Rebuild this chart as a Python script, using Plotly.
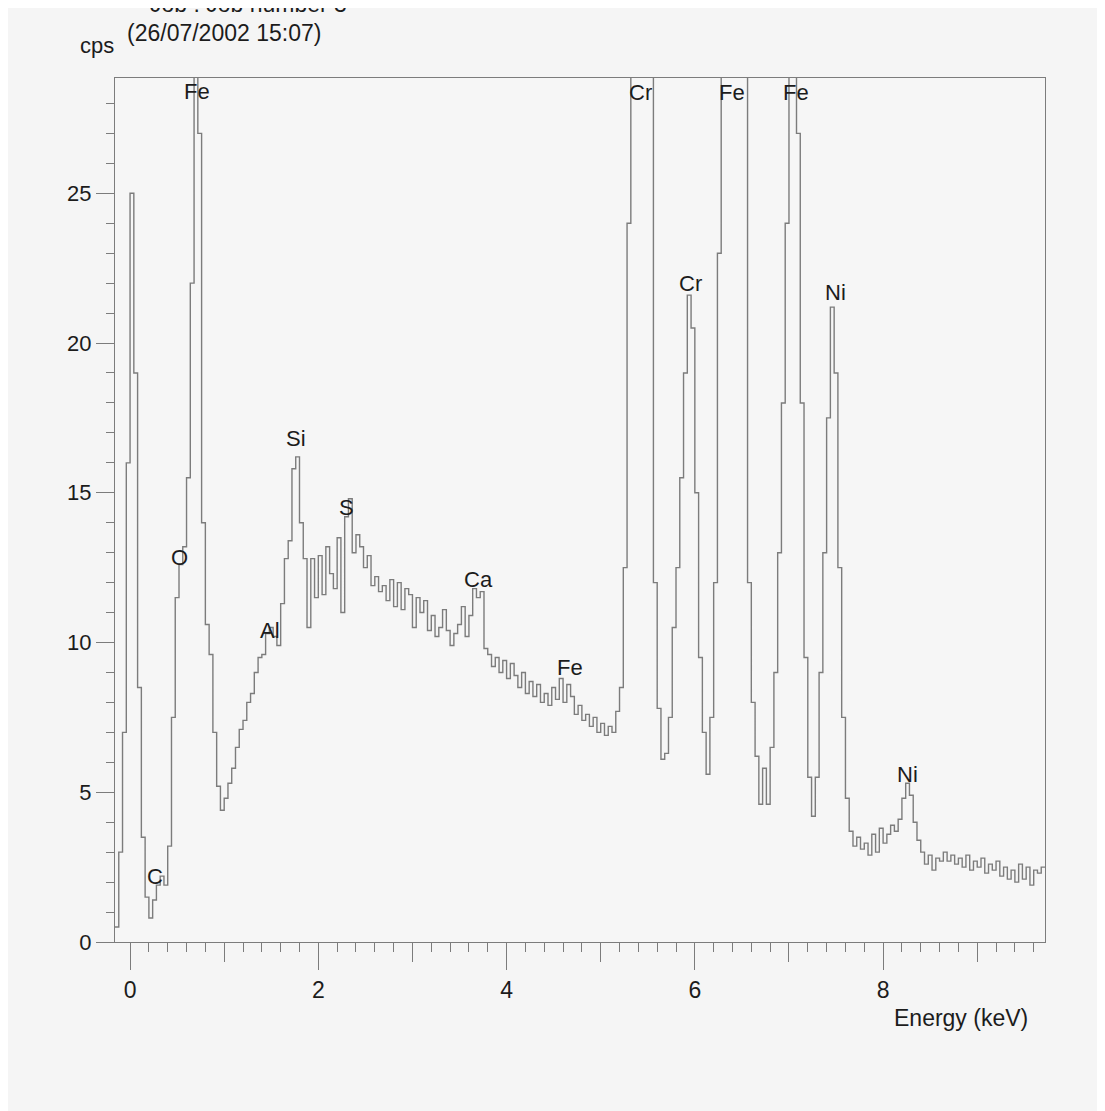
import plotly.graph_objects as go

# ---- data ----
channel_start = -0.16   # keV, left edge of first channel
channel_width = 0.04    # keV

counts_m0_to_1 = [0.5, 3.0, 7.0, 16.0, 25.0, 19.0, 8.5, 3.5, 1.5, 0.8,
                  1.4, 1.9, 2.2, 1.9, 3.2, 7.5, 11.5, 12.6, 13.2, 15.5,
                  22.0, 30.0, 27.0, 14.0, 10.6, 9.6, 7.0, 5.2, 4.4]
counts_1_to_2 = [4.8, 5.3, 5.8, 6.5, 7.1, 7.4, 8.0, 8.3, 9.0, 9.5,
                 9.6, 10.3, 10.5, 10.2, 9.9, 11.3, 12.8, 13.4, 15.8, 16.2,
                 14.0, 12.8, 10.5, 12.8, 11.5]
counts_2_to_3 = [12.9, 11.6, 13.2, 12.3, 11.8, 13.5, 11.0, 14.2, 14.8, 13.0,
                 13.6, 13.2, 12.5, 12.9, 11.9, 12.2, 11.7, 11.9, 11.4, 12.1,
                 11.2, 12.0, 11.1, 11.8, 11.6]
counts_3_to_4 = [10.5, 11.5, 11.0, 11.4, 10.4, 10.9, 10.2, 10.5, 11.1, 10.4,
                 9.9, 10.3, 10.6, 11.2, 10.2, 10.9, 11.8, 11.5, 11.7, 9.8,
                 9.6, 9.2, 9.5, 9.0, 9.4]
counts_4_to_5 = [8.8, 9.3, 8.9, 8.5, 9.0, 8.3, 8.7, 8.2, 8.6, 8.0,
                 8.3, 7.9, 8.5, 8.1, 8.8, 8.0, 8.6, 8.2, 7.6, 7.9,
                 7.4, 7.6, 7.2, 7.5, 7.0]
counts_5_to_6 = [7.3, 6.9, 7.2, 7.0, 7.7, 8.5, 12.5, 24.0, 30.0, 30.0,
                 30.0, 30.0, 30.0, 30.0, 12.0, 7.8, 6.1, 6.3, 7.5, 10.5,
                 12.5, 15.5, 19.0, 21.6, 20.5]
counts_6_to_7 = [15.0, 9.5, 7.0, 5.6, 7.5, 12.0, 23.0, 30.0, 30.0, 30.0,
                 30.0, 30.0, 30.0, 30.0, 12.0, 8.0, 6.2, 4.6, 5.8, 4.6,
                 6.5, 9.0, 13.0, 18.0, 24.0]
counts_7_to_8 = [30.0, 30.0, 27.0, 18.0, 9.5, 5.5, 4.2, 5.5, 9.0, 13.0,
                 17.5, 21.2, 19.0, 12.5, 7.5, 4.8, 3.7, 3.2, 3.5, 3.1,
                 3.3, 2.9, 3.6, 3.0, 3.8]
counts_8_to_9 = [3.3, 3.6, 3.9, 3.7, 4.1, 4.8, 5.3, 4.9, 4.0, 3.4,
                 3.0, 2.6, 2.9, 2.4, 2.8, 2.7, 3.0, 2.7, 2.9, 2.6,
                 2.8, 2.5, 2.9, 2.4, 2.7]
counts_9_to_end = [2.5, 2.8, 2.3, 2.6, 2.4, 2.7, 2.2, 2.5, 2.1, 2.4,
                   2.0, 2.6, 2.1, 2.5, 1.9, 2.4, 2.3, 2.5]

peak_labels = ["Fe", "C", "O", "Al", "Si", "S", "Ca", "Fe",
               "Cr", "Cr", "Fe", "Fe", "Ni", "Ni"]
peak_energy = [0.71, 0.27, 0.53, 1.49, 1.76, 2.30, 3.70, 4.67,
               5.42, 5.95, 6.40, 7.07, 7.49, 8.26]
peak_height = [28.4, 2.2, 12.85, 10.4, 16.8, 14.5, 12.1, 9.15,
               28.35, 22.0, 28.35, 28.35, 21.7, 5.6]

x_major_ticks = [0, 2, 4, 6, 8]
x_mid_ticks = [1, 3, 5, 7, 9]
y_ticks = [0, 5, 10, 15, 20, 25]
x_range = [-0.16, 9.72]
y_range = [0, 28.85]

# ---- build spectrum ----
counts = (counts_m0_to_1 + counts_1_to_2 + counts_2_to_3 + counts_3_to_4 +
          counts_4_to_5 + counts_5_to_6 + counts_6_to_7 + counts_7_to_8 +
          counts_8_to_9 + counts_9_to_end)
energy = [round(channel_start + i * channel_width, 4) for i in range(len(counts))]
energy_plot = energy + [energy[-1] + channel_width]
counts_plot = counts + [counts[-1]]

FONT = "Liberation Sans, Arial, sans-serif"
TXT = "#1c1c1c"
LINE = "#7c7c7c"

fig = go.Figure()
fig.add_trace(go.Scatter(
    x=energy_plot, y=counts_plot, mode="lines",
    line=dict(color=LINE, width=1.4, shape="hv"),
    hoverinfo="skip", showlegend=False,
))
# carrier trace for the overlay axis that draws the mid-length x ticks
fig.add_trace(go.Scatter(
    x=energy_plot, y=counts_plot, mode="none", xaxis="x2",
    hoverinfo="skip", showlegend=False,
))

for lab, e, h in zip(peak_labels, peak_energy, peak_height):
    fig.add_annotation(x=e, y=h, text=lab, showarrow=False,
                       font=dict(family=FONT, size=22, color=TXT),
                       xanchor="center", yanchor="middle")

fig.add_annotation(xref="paper", yref="paper", x=0.9097, y=-0.088,
                   text="Energy (keV)", showarrow=False,
                   font=dict(family=FONT, size=23, color=TXT),
                   xanchor="center", yanchor="middle")
fig.add_annotation(xref="paper", yref="paper", x=-0.0194, y=1.038,
                   text="cps", showarrow=False,
                   font=dict(family=FONT, size=22, color=TXT),
                   xanchor="center", yanchor="middle")
fig.add_annotation(xref="paper", yref="paper", x=0.0108, y=1.052,
                   text="(26/07/2002 15:07)", showarrow=False,
                   font=dict(family=FONT, size=23, color=TXT),
                   xanchor="left", yanchor="middle")
fig.add_annotation(xref="paper", yref="paper", x=0.035, y=1.0685,
                   text="Job : Job number 3", showarrow=False,
                   font=dict(family=FONT, size=23, color=TXT),
                   xanchor="left", yanchor="bottom")

fig.update_layout(
    width=1097, height=1103,
    margin=dict(l=107, r=60, t=70, b=169),
    paper_bgcolor="#f5f5f5", plot_bgcolor="#f6f6f6",
    font=dict(family=FONT, size=22, color=TXT),
    xaxis=dict(
        range=x_range, tickvals=x_major_ticks, ticks="outside", ticklen=27,
        tickcolor=LINE, tickwidth=1.3, ticklabelstandoff=0,
        minor=dict(dtick=0.2, tick0=0, ticks="outside", ticklen=9,
                   tickcolor=LINE, tickwidth=1.3, showgrid=False),
        showline=True, linecolor=LINE, linewidth=1.3, mirror=True,
        showgrid=False, zeroline=False,
        tickfont=dict(family=FONT, size=23, color=TXT),
    ),
    xaxis2=dict(
        range=x_range, overlaying="x", side="bottom", anchor="y",
        tickvals=x_mid_ticks, ticks="outside", ticklen=19,
        tickcolor=LINE, tickwidth=1.3, showticklabels=False,
        showline=False, showgrid=False, zeroline=False,
    ),
    yaxis=dict(
        range=y_range, tickvals=y_ticks, ticks="outside", ticklen=18,
        tickcolor=LINE, tickwidth=1.3,
        minor=dict(dtick=1, tick0=0, ticks="outside", ticklen=8,
                   tickcolor=LINE, tickwidth=1.3, showgrid=False),
        showline=True, linecolor=LINE, linewidth=1.3, mirror=True,
        showgrid=False, zeroline=False,
        tickfont=dict(family=FONT, size=22, color=TXT),
    ),
)

fig.write_html("out.html")
